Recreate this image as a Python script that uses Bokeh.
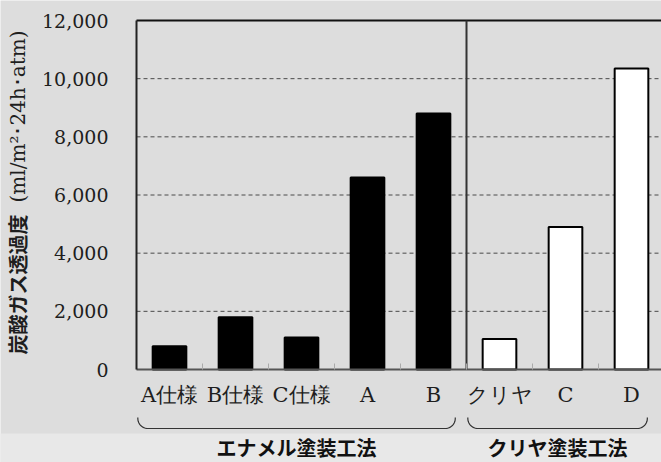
import math

from bokeh.plotting import figure
from bokeh.models import (Range1d, FixedTicker, NumeralTickFormatter, LinearAxis,
                          BoxAnnotation, ColumnDataSource)
from bokeh.core.properties import value
from bokeh.embed import file_html
from bokeh.resources import INLINE

# ---- data -------------------------------------------------------------
categories = ["A仕様", "B仕様", "C仕様", "A", "B", "クリヤ", "C", "D"]
permeability = [800, 1800, 1100, 6600, 8800, 1050, 4900, 10350]   # ml/m2・24h・atm
category_group = [0, 0, 0, 0, 0, 1, 1, 1]
group_names = ["エナメル塗装工法", "クリヤ塗装工法"]
group_fill = ["#000000", "#ffffff"]
y_ticks = [0, 2000, 4000, 6000, 8000, 10000, 12000]
y_label_main = "炭酸ガス透過度"
y_label_unit = "(ml/m²･24h･atm)"

# ---- layout (pixel geometry of the plotting area) ---------------------
W, H = 661, 462
AX_LEFT, AX_TOP, AX_ZERO = 136, 20, 369
SLOT_PX = 66                                  # width of one category slot
px_x = 1.0 / SLOT_PX                          # data units per pixel
px_y = y_ticks[-1] / (AX_ZERO - AX_TOP)
x_end = (W - AX_LEFT) * px_x
y_top = y_ticks[-1]


def xd(px):
    return (px - AX_LEFT) * px_x


def yd(py):
    return (AX_ZERO - py) * px_y


BG = "#dddddd"
STRIP = "#e8e8e8"
SERIF = "DejaVu Serif"
GOTHIC = "Noto Sans CJK JP"
INK = "#1e1e1e"

p = figure(width=W, height=H, x_range=Range1d(xd(0), xd(W)), y_range=Range1d(yd(H), yd(0)),
           output_backend="svg", toolbar_location=None,
           x_axis_location=None, y_axis_location=None,
           min_border=0, background_fill_color=BG, border_fill_color=BG,
           outline_line_color=None)
p.xgrid.visible = False
p.ygrid.visible = False

# lighter strip along the bottom edge
p.add_layout(BoxAnnotation(top=yd(433), fill_color=STRIP, fill_alpha=1,
                           line_color=None, level="underlay"))

# dashed value grid inside the plotting area
grid_vals = y_ticks[1:-1]
p.segment(x0=[0] * len(grid_vals), x1=[x_end] * len(grid_vals), y0=grid_vals, y1=grid_vals,
          line_color="#4a4a4a", line_dash="4 3", line_width=1)

# ---- bars -------------------------------------------------------------
centers = [i + 0.5 for i in range(len(categories))]
src = ColumnDataSource(dict(
    x=centers, value=permeability, name=categories,
    fill=[group_fill[g] for g in category_group]))
p.vbar(x="x", top="value", width=0.51, source=src, fill_color="fill",
       line_color="#000000", line_width=2)

# top frame line and the divider between the two methods
split = category_group.index(1)
p.segment(x0=[0, split], y0=[y_top, 0], x1=[x_end, split], y1=[y_top, y_top],
          line_color=["#111111", "#333333"], line_width=2)

# ---- axes -------------------------------------------------------------
yax = LinearAxis(fixed_location=0, bounds=(0, y_top))
yax.ticker = FixedTicker(ticks=y_ticks)
yax.formatter = NumeralTickFormatter(format="0,0")
yax.axis_line_color = "#222222"
yax.axis_line_width = 2
yax.major_tick_in = 0
yax.major_tick_out = 0
yax.minor_tick_line_color = None
yax.major_label_standoff = 28
yax.major_label_text_font = SERIF
yax.major_label_text_font_size = "19px"
yax.major_label_text_color = INK
p.add_layout(yax, "left")

xax = LinearAxis(fixed_location=0, bounds=(0, x_end))
xax.ticker = FixedTicker(ticks=centers, minor_ticks=list(range(1, len(categories))))
xax.major_label_overrides = {c: n for c, n in zip(centers, categories)}
xax.axis_line_color = "#555555"
xax.axis_line_width = 2
xax.major_tick_in = 0
xax.major_tick_out = 0
xax.minor_tick_in = 6
xax.minor_tick_out = 0
xax.minor_tick_line_color = "#aaaaaa"
xax.minor_tick_line_width = 1
xax.major_label_standoff = 13
xax.major_label_text_font = SERIF
xax.major_label_text_font_size = "21px"
xax.major_label_text_color = INK
p.add_layout(xax, "below")

# ---- group braces and names ------------------------------------------
brace_insets = [(0.02, 0.17), (0.02, 0.26)]
b_top, b_bot = yd(417), yd(428)
r_px = 10
rx, ry = r_px * px_x, r_px * px_y
brace_xs, brace_ys, name_x = [], [], []
for g in range(len(group_names)):
    idx = [i for i, k in enumerate(category_group) if k == g]
    x0 = idx[0] + brace_insets[g][0]
    x1 = idx[-1] + 1 - brace_insets[g][1]
    xs, ys = [x0], [b_top]
    for k in range(11):
        a = math.pi + k * (math.pi / 2) / 10
        xs.append(x0 + rx + rx * math.cos(a))
        ys.append(b_bot + ry + ry * math.sin(a))
    for k in range(11):
        a = 1.5 * math.pi + k * (math.pi / 2) / 10
        xs.append(x1 - rx + rx * math.cos(a))
        ys.append(b_bot + ry + ry * math.sin(a))
    xs.append(x1)
    ys.append(b_top)
    brace_xs.append(xs)
    brace_ys.append(ys)
    name_x.append((x0 + x1) / 2)

p.multi_line(xs=brace_xs, ys=brace_ys, line_color="#333333", line_width=1.2)
p.text(x=name_x, y=[yd(447)] * len(group_names), text=group_names,
       text_align="center", text_baseline="middle", text_font=value(GOTHIC),
       text_font_style="bold", text_font_size="20px", text_color="#111111")

# ---- vertical axis title (gothic name + serif unit) -------------------
p.text(x=[xd(17)], y=[yd(284)], text=[y_label_main], angle=math.pi / 2,
       text_align="center", text_baseline="middle", text_font=value(GOTHIC),
       text_font_style="bold", text_font_size="20px", text_color=INK)
p.text(x=[xd(17)], y=[yd(116)], text=[y_label_unit], angle=math.pi / 2,
       text_align="center", text_baseline="middle", text_font=value(SERIF),
       text_font_size="20px", text_color=INK)

open("out.html", "w").write(file_html(p, INLINE))
